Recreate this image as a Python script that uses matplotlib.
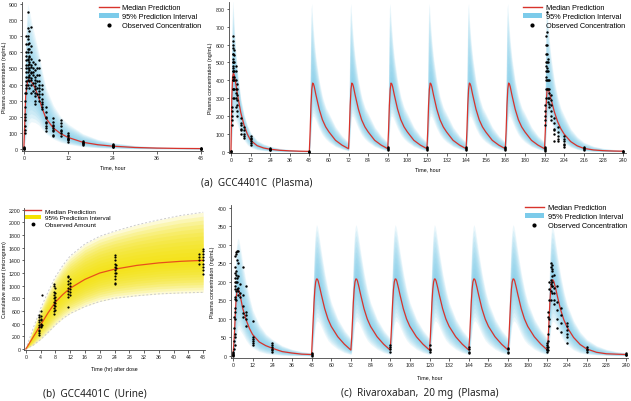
import numpy as np
import matplotlib
matplotlib.use("Agg")
import matplotlib.pyplot as plt
from matplotlib.lines import Line2D
from matplotlib.patches import Patch

plt.rcParams["font.family"] = ["Liberation Sans", "DejaVu Sans"]

# ---------------- (a) GCC4401C plasma, single dose ----------------
a1_t = [0, 0.5, 1, 1.5, 2, 3, 4, 5, 6, 8, 10, 12, 16, 20, 24, 30, 36, 42, 48]
a1_med = [0, 330, 420, 430, 420, 380, 320, 250, 190, 130, 95, 72, 42, 27, 18, 10, 6, 4, 3]
a1_hi = [0, 700, 900, 860, 800, 700, 600, 480, 380, 270, 200, 155, 95, 60, 40, 22, 14, 9, 6]
a1_lo = [0, 60, 130, 160, 170, 165, 150, 120, 95, 62, 42, 30, 15, 8, 5, 2, 1, 1, 0]
a1_obs = [
    (0, [0, 3, 6, 9, 12]),
    (0.25, [100, 140, 180, 220, 260, 300, 350, 120, 200]),
    (0.5, [350, 400, 450, 500, 550, 600, 650, 700, 380, 420, 480, 520, 580]),
    (1, [400, 450, 500, 550, 600, 650, 700, 750, 850, 480, 520, 560, 620, 680, 430]),
    (1.5, [380, 420, 460, 500, 540, 580, 620, 660, 730, 450, 490, 530, 570]),
    (2, [350, 400, 440, 480, 520, 560, 600, 640, 760, 430, 470, 510]),
    (2.5, [360, 410, 460, 500, 540, 480]),
    (3, [330, 370, 410, 450, 490, 530, 350, 390, 430, 300, 280]),
    (3.5, [340, 380, 420, 460, 500]),
    (4, [300, 340, 380, 420, 460, 500, 550, 320, 360, 400]),
    (5, [250, 280, 310, 340, 370, 400, 260, 290]),
    (6, [110, 140, 170, 200, 230, 260, 130, 160, 190]),
    (8, [90, 110, 130, 150, 170, 190, 120, 140, 80]),
    (10, [80, 100, 120, 140, 160, 180, 110]),
    (12, [45, 60, 70, 80, 90, 100, 65, 55]),
    (16, [25, 30, 35, 40, 45, 50]),
    (24, [12, 15, 18, 20, 22, 25, 28, 30]),
    (48, [1, 2, 3, 4, 5]),
]

# ---------------- (a) GCC4401C plasma, multiple dose ----------------
a2_doses = [48, 72, 96, 120, 144, 168]
a2_last_dose = 192
a2_first_t = [0, 0.5, 1, 1.5, 2, 3, 4, 6, 8, 10, 12, 16, 20, 24, 30, 36, 42, 48]
a2_first_med = [0, 300, 420, 440, 430, 380, 320, 220, 150, 100, 65, 35, 22, 15, 9, 6, 4, 3]
a2_first_hi = [0, 650, 850, 800, 700, 560, 450, 300, 210, 150, 110, 65, 45, 32, 20, 14, 10, 7]
a2_first_lo = [0, 50, 120, 170, 180, 170, 150, 100, 65, 40, 25, 12, 7, 4, 2, 1, 1, 0]
a2_rep_off = [0.5, 1, 1.5, 2, 2.5, 3, 4, 6, 8, 10, 12, 16, 20, 24]
a2_rep_med = [120, 260, 350, 385, 380, 365, 320, 240, 180, 140, 112, 65, 38, 18]
a2_rep_hi = [450, 800, 830, 740, 680, 620, 530, 400, 310, 250, 215, 140, 90, 55]
a2_rep_lo = [30, 100, 170, 200, 200, 195, 175, 130, 95, 72, 55, 30, 16, 6]
a2_last_off = [0.5, 1, 1.5, 2, 2.5, 3, 4, 6, 8, 10, 12, 16, 20, 24, 30, 36, 42, 48]
a2_last_med = [120, 260, 340, 355, 345, 330, 295, 225, 170, 130, 100, 58, 34, 20, 11, 7, 5, 4]
a2_last_hi = [450, 800, 830, 740, 680, 620, 530, 400, 310, 245, 205, 130, 85, 55, 32, 20, 14, 10]
a2_last_lo = [30, 100, 160, 185, 185, 180, 165, 122, 88, 66, 50, 27, 14, 6, 3, 2, 1, 1]
a2_obs = [
    (0, [0, 3, 6]),
    (0.5, [150, 180, 200, 230, 250]),
    (1, [300, 350, 400, 450, 500, 550, 600, 620, 480, 420]),
    (1.5, [350, 400, 450, 500, 550, 580, 650, 470, 520]),
    (2, [300, 350, 400, 450, 500, 540, 570, 420]),
    (3, [250, 300, 350, 400, 450, 480, 330]),
    (4, [200, 230, 260, 290, 320, 350, 380]),
    (6, [100, 130, 160, 190, 120, 150]),
    (8, [80, 100, 120, 140, 90]),
    (12, [40, 50, 60, 70, 80, 90]),
    (24, [8, 12, 15, 18, 20]),
    (48, [1, 2, 3]),
    (96, [10, 15, 20, 25]),
    (120, [12, 18, 22, 28]),
    (144, [10, 15, 20, 25]),
    (168, [10, 15, 20, 25]),
    (192, [5, 10, 15, 20, 25]),
    (192.5, [150, 180, 200, 230, 260]),
    (193, [300, 350, 400, 450, 500, 550, 600, 650, 420, 480]),
    (193.5, [350, 400, 450, 500, 550, 600, 670, 780, 470]),
    (194, [300, 350, 400, 450, 500, 520, 280]),
    (195, [250, 300, 350, 400, 270, 330]),
    (196, [200, 230, 260, 290, 320, 180]),
    (198, [100, 130, 160, 190, 120, 60]),
    (200, [70, 90, 110, 140, 60]),
    (204, [30, 45, 60, 75, 90, 40]),
    (216, [10, 15, 20, 25]),
    (240, [2, 4, 6]),
]

# ---------------- (b) GCC4401C urine, cumulative amount ----------------
b_t = [0, 2, 4, 6, 8, 10, 12, 16, 20, 24, 30, 36, 42, 48]
b_med = [0, 190, 380, 570, 740, 860, 960, 1100, 1200, 1260, 1320, 1360, 1385, 1400]
b_hi = [0, 330, 640, 900, 1140, 1320, 1470, 1660, 1780, 1860, 1960, 2040, 2110, 2160]
b_lo = [0, 60, 150, 260, 380, 480, 560, 670, 750, 800, 840, 870, 885, 895]
b_obs = [
    (3.5, [300, 340, 380, 420, 250, 280, 460, 500, 540, 220]),
    (4, [350, 400, 450, 480, 520, 600, 370]),
    (4.5, [850, 380]),
    (7.5, [560, 600, 650, 700, 750, 800, 850, 900, 1000, 1020]),
    (8, [620, 680, 720, 770, 820, 880, 960]),
    (11.5, [820, 870, 920, 970, 1020, 1080, 1130, 1160, 670]),
    (12, [850, 900, 950, 1000, 1050, 1100]),
    (24, [1050, 1100, 1150, 1200, 1250, 1300, 1350, 1400, 1450, 1480, 1030]),
    (24.5, [1200, 1280, 1330]),
    (47, [1350, 1400, 1450, 1500]),
    (48, [1180, 1250, 1300, 1350, 1400, 1450, 1500, 1550, 1580]),
]

# ---------------- (c) Rivaroxaban 20 mg plasma ----------------
c_doses = [48, 72, 96, 120, 144, 168]
c_last_dose = 192
c_first_t = [0, 0.5, 1, 1.5, 2, 2.5, 3, 3.5, 4, 5, 6, 8, 10, 12, 16, 20, 24, 30, 36, 42, 48]
c_first_med = [0, 30, 70, 120, 160, 175, 178, 177, 172, 150, 128, 98, 75, 58, 38, 28, 21, 12, 8, 5, 4]
c_first_hi = [0, 80, 160, 240, 290, 310, 318, 315, 305, 280, 250, 200, 160, 125, 85, 60, 45, 28, 18, 12, 9]
c_first_lo = [0, 3, 10, 25, 45, 60, 70, 72, 72, 65, 58, 42, 30, 22, 12, 7, 4, 2, 1, 1, 0]
c_rep_off = [0.5, 1, 1.5, 2, 2.5, 3, 3.5, 4, 5, 6, 8, 10, 12, 16, 20, 24]
c_rep_med = [50, 100, 145, 180, 200, 208, 208, 203, 185, 165, 128, 100, 80, 52, 32, 16]
c_rep_hi = [110, 200, 270, 320, 345, 355, 350, 340, 310, 280, 225, 180, 145, 100, 70, 48]
c_rep_lo = [10, 30, 50, 70, 85, 92, 95, 94, 88, 78, 58, 42, 32, 18, 9, 4]
c_last_off = [0.5, 1, 1.5, 2, 2.5, 3, 3.5, 4, 5, 6, 8, 10, 12, 16, 20, 24, 30, 36, 42, 48]
c_last_med = [50, 100, 145, 180, 200, 206, 205, 200, 183, 163, 126, 98, 78, 50, 31, 19, 10, 6, 5, 4]
c_last_hi = [110, 200, 270, 320, 345, 350, 345, 335, 305, 275, 220, 175, 140, 95, 65, 45, 28, 18, 12, 9]
c_last_lo = [10, 30, 50, 70, 85, 92, 94, 92, 86, 76, 56, 40, 30, 16, 8, 5, 3, 2, 1, 1]
c_obs = [
    (0, [0, 2, 5, 8, 10, 3]),
    (0.5, [20, 40, 75, 105]),
    (1, [30, 60, 100, 130, 155, 200, 50]),
    (1.5, [120, 160, 190, 210, 225, 240, 270, 180]),
    (2, [150, 175, 200, 230, 275, 280, 220]),
    (2.5, [180, 200, 260, 285, 210]),
    (3, [165, 175, 185, 215, 250, 285]),
    (4, [160, 170, 195]),
    (6, [105, 115, 135, 165, 240]),
    (8, [80, 100, 110, 120, 190]),
    (12, [30, 35, 40, 45, 50, 95]),
    (24, [10, 15, 20, 25, 30, 35]),
    (48, [0, 3, 6, 9]),
    (96, [12, 18, 25, 30]),
    (120, [10, 15, 20, 30]),
    (144, [8, 12, 18, 25]),
    (168, [8, 12, 18, 22]),
    (192, [10, 15, 20, 25, 30, 35]),
    (192.5, [15, 25, 40, 60, 105, 120]),
    (193, [80, 100, 150, 180, 200]),
    (194, [150, 175, 195, 205, 240, 250]),
    (194.5, [190, 215, 230, 235, 245]),
    (195, [170, 190, 200]),
    (196, [140, 150, 170, 185, 220]),
    (198, [75, 100, 125, 145, 190]),
    (200, [65, 90, 110, 130]),
    (204, [35, 50, 60, 70, 80, 88]),
    (216, [10, 15, 20, 25]),
    (240, [2, 4, 6, 8]),
]

RED = "#d8332c"
BLUE = "#7ccbea"
YELLOW = "#f4e200"


def join_doses(first_t, first_v, off, rep_v, doses, last_off, last_v, last_dose):
    t = list(first_t)
    v = list(first_v)
    for d in doses:
        t += [d + o for o in off]
        v += list(rep_v)
    t += [last_dose + o for o in last_off]
    v += list(last_v)
    return np.array(t), np.array(v)


def draw_band(ax, t, med, lo, hi, color, n=10, alpha=0.15):
    t, med, lo, hi = map(np.asarray, (t, med, lo, hi))
    for f in np.linspace(1.0, 0.1, n):
        ax.fill_between(t, med - f * (med - lo), med + f * (hi - med),
                        color=color, alpha=alpha, lw=0)


def draw_obs(ax, obs, s=3):
    xs = [t for t, vals in obs for _ in vals]
    ys = [v for _, vals in obs for v in vals]
    ax.scatter(xs, ys, s=s, color="black", lw=0, zorder=5)


def style(ax, xticks, yticks):
    for sp in ["top", "right"]:
        ax.spines[sp].set_visible(False)
    for sp in ["left", "bottom"]:
        ax.spines[sp].set_linewidth(0.6)
        ax.spines[sp].set_color("#444444")
    ax.set_xticks(xticks)
    ax.set_yticks(yticks)
    ax.tick_params(labelsize=3.8, length=1.8, width=0.5, pad=1.2, colors="#222222")


def px_axes(fig, l, t, r, b):
    W, H = 631, 402
    return fig.add_axes([l / W, 1 - b / H, (r - l) / W, (b - t) / H])


fig = plt.figure(figsize=(6.31, 4.02), dpi=100)

blue_handles = [Line2D([0], [0], color=RED, lw=1),
                Patch(facecolor=BLUE, edgecolor="none"),
                Line2D([0], [0], marker="o", color="black", lw=0, markersize=2)]

# (a) left
ax1 = px_axes(fig, 22, 3, 203, 152)
draw_band(ax1, a1_t, a1_med, a1_lo, a1_hi, BLUE)
ax1.plot(a1_t, a1_med, color=RED, lw=0.9, zorder=4)
draw_obs(ax1, a1_obs)
ax1.set_xlim(-0.5, 48.5)
ax1.set_ylim(-12, 912)
style(ax1, range(0, 49, 12), range(0, 901, 100))
ax1.set_ylabel("Plasma concentration (ng/mL)", fontsize=3.8, labelpad=1)
ax1.set_xlabel("Time, hour", fontsize=3.8, labelpad=3)
ax1.legend(blue_handles, ["Median Prediction", "95% Prediction Interval", "Observed Concentration"],
           loc="upper right", bbox_to_anchor=(1.02, 1.02), frameon=False, fontsize=5.3,
           handlelength=2.6, handletextpad=0.5, labelspacing=0.25, borderpad=0.2)

# (a) right
ax2 = px_axes(fig, 229, 3, 626, 154)
t2, med2 = join_doses(a2_first_t, a2_first_med, a2_rep_off, a2_rep_med, a2_doses,
                      a2_last_off, a2_last_med, a2_last_dose)
_, hi2 = join_doses(a2_first_t, a2_first_hi, a2_rep_off, a2_rep_hi, a2_doses,
                    a2_last_off, a2_last_hi, a2_last_dose)
_, lo2 = join_doses(a2_first_t, a2_first_lo, a2_rep_off, a2_rep_lo, a2_doses,
                    a2_last_off, a2_last_lo, a2_last_dose)
draw_band(ax2, t2, med2, lo2, hi2, BLUE)
ax2.plot(t2, med2, color=RED, lw=0.9, zorder=4)
draw_obs(ax2, a2_obs)
ax2.set_xlim(-1.2, 241.9)
ax2.set_ylim(-6, 838)
style(ax2, range(0, 241, 12), range(0, 801, 100))
ax2.set_ylabel("Plasma concentration (ng/mL)", fontsize=3.8, labelpad=2)
ax2.set_xlabel("Time, hour", fontsize=3.8, labelpad=3)
ax2.legend(blue_handles, ["Median Prediction", "95% Prediction Interval", "Observed Concentration"],
           loc="upper right", bbox_to_anchor=(1.01, 1.02), frameon=False, fontsize=5.3,
           handlelength=2.6, handletextpad=0.5, labelspacing=0.25, borderpad=0.2)

# (b)
ax3 = px_axes(fig, 24, 209, 205, 351)
draw_band(ax3, b_t, b_med, b_lo, b_hi, YELLOW, n=12, alpha=0.16)
ax3.plot(b_t, b_hi, color="#cccccc", lw=0.7, ls=(0, (2, 2)))
ax3.plot(b_t, b_lo, color="#cccccc", lw=0.7, ls=(0, (2, 2)))
ax3.plot(b_t, b_med, color="#e8501c", lw=0.9, zorder=4)
draw_obs(ax3, b_obs, s=2.5)
ax3.set_xlim(-0.5, 48.5)
ax3.set_ylim(-16, 2227)
style(ax3, range(0, 49, 4), range(0, 2201, 200))
ax3.tick_params(axis="y", pad=0.8)
ax3.set_ylabel("Cumulative amount (microgram)", fontsize=3.8, labelpad=0.8)
ax3.set_xlabel("Time (hr) after dose", fontsize=3.8, labelpad=5)
yellow_handles = [Line2D([0], [0], color=RED, lw=1),
                  Patch(facecolor=YELLOW, edgecolor="none"),
                  Line2D([0], [0], marker="o", color="black", lw=0, markersize=1.8)]
ax3.legend(yellow_handles, ["Median Prediction", "95% Prediction Interval", "Observed Amount"],
           loc="upper left", bbox_to_anchor=(-0.02, 1.03), frameon=False, fontsize=4.6,
           handlelength=2.6, handletextpad=0.6, labelspacing=0.2, borderpad=0.2)

# (c)
ax4 = px_axes(fig, 231, 206, 628, 359)
t4, med4 = join_doses(c_first_t, c_first_med, c_rep_off, c_rep_med, c_doses,
                      c_last_off, c_last_med, c_last_dose)
_, hi4 = join_doses(c_first_t, c_first_hi, c_rep_off, c_rep_hi, c_doses,
                    c_last_off, c_last_hi, c_last_dose)
_, lo4 = join_doses(c_first_t, c_first_lo, c_rep_off, c_rep_lo, c_doses,
                    c_last_off, c_last_lo, c_last_dose)
draw_band(ax4, t4, med4, lo4, hi4, BLUE)
ax4.plot(t4, med4, color=RED, lw=0.9, zorder=4)
draw_obs(ax4, c_obs)
ax4.set_xlim(-1.2, 241.2)
ax4.set_ylim(-5.4, 408)
style(ax4, range(0, 241, 12), range(0, 401, 50))
ax4.set_ylabel("Plasma concentration (ng/mL)", fontsize=3.8, labelpad=2)
ax4.set_xlabel("Time, hour", fontsize=3.8, labelpad=5)
ax4.legend(blue_handles, ["Median Prediction", "95% Prediction Interval", "Observed Concentration"],
           loc="upper right", bbox_to_anchor=(1.01, 1.04), frameon=False, fontsize=5.3,
           handlelength=2.6, handletextpad=0.5, labelspacing=0.25, borderpad=0.2)

# captions
cap = dict(fontsize=7.2, family=["Noto Sans", "DejaVu Sans"], ha="center", va="center", color="#222222")
fig.text(257 / 631, 1 - 183 / 402, "(a)  GCC4401C  (Plasma)", **cap)
fig.text(95 / 631, 1 - 394 / 402, "(b)  GCC4401C  (Urine)", **cap)
fig.text(420 / 631, 1 - 394 / 402, "(c)  Rivaroxaban,  20 mg  (Plasma)", **cap)

fig.savefig("out.png", dpi=100)
